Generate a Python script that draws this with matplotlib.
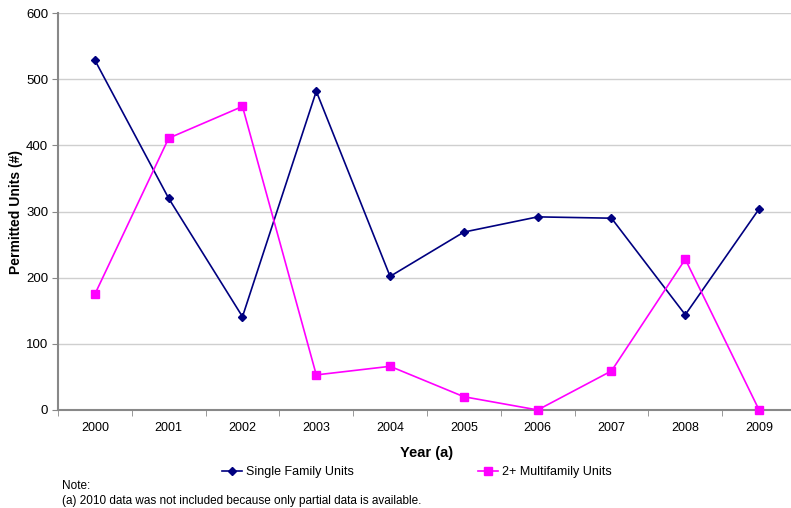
import numpy as np
import matplotlib.pyplot as plt

plt.rcParams['font.family'] = ['Liberation Sans', 'DejaVu Sans']

# Permitted units by year
years = ['2000', '2001', '2002', '2003', '2004', '2005', '2006', '2007', '2008', '2009']
single_family = [529, 320, 141, 482, 202, 269, 292, 290, 144, 304]
multifamily = [175, 411, 459, 53, 66, 20, 0, 59, 228, 0]

fig = plt.figure(figsize=(7.91, 5.08), dpi=100)
ax = fig.add_axes([0.0733, 0.193, 0.933, 0.781])

x = np.arange(len(years))
l1, = ax.plot(x, single_family, color='#000080', marker='D', markersize=4.5,
              linewidth=1.2, label='Single Family Units', clip_on=False, zorder=3)
l2, = ax.plot(x, multifamily, color='#ff00ff', marker='s', markersize=5.5,
              linewidth=1.2, label='2+ Multifamily Units', clip_on=False, zorder=3)

ax.set_xlim(-0.5, 9.5)
ax.set_ylim(0, 600)
ax.set_yticks(range(0, 601, 100))
ax.set_xticks(x)
ax.set_xticklabels(years)
ax.set_xticks(np.arange(-0.5, 10, 1), minor=True)
ax.tick_params(axis='x', which='major', length=0, pad=9, labelsize=9)
ax.tick_params(axis='x', which='minor', length=4, color='#888888', direction='out')
ax.tick_params(axis='y', length=4, color='#888888', labelsize=9.5, pad=3)

ax.yaxis.grid(True, color='#cfcfcf', linewidth=1)
ax.set_axisbelow(True)
for side in ('top', 'right'):
    ax.spines[side].set_visible(False)
for side in ('left', 'bottom'):
    ax.spines[side].set_color('#888888')
    ax.spines[side].set_linewidth(1.5)

ax.set_xlabel('Year (a)', fontsize=10.5, fontweight='bold', labelpad=8)
ax.set_ylabel('Permitted Units (#)', fontsize=10, fontweight='bold')
ax.yaxis.set_label_coords(-0.048, 0.5)

fig.legend(handles=[l1, l2], loc='center', bbox_to_anchor=(0.527, 0.071), ncol=2,
           frameon=False, fontsize=9, columnspacing=10, handlelength=1.6,
           handletextpad=0.3)

fig.text(0.079, 0.043, 'Note:', fontsize=8.5, va='center')
fig.text(0.079, 0.013, '(a) 2010 data was not included because only partial data is available.',
         fontsize=8.5, va='center')

fig.savefig('out.png', dpi=100)
